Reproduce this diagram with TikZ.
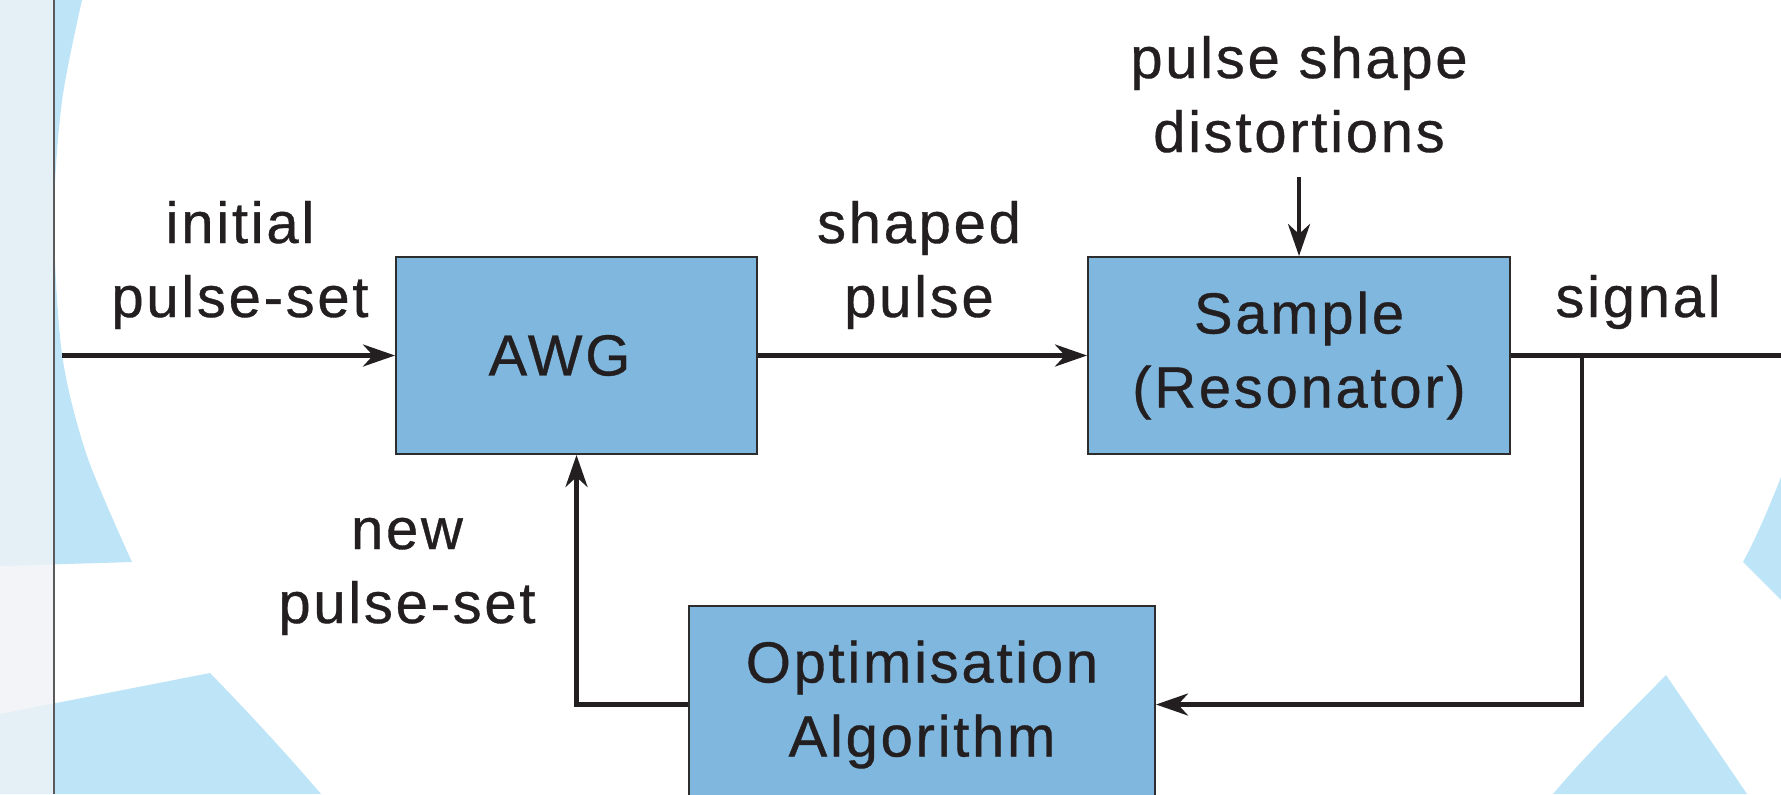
\documentclass[tikz,border=0pt]{standalone}
\usepackage{fontspec}
\setmainfont{Liberation Sans}[LetterSpace=4.7,FakeBold=0.6]
\usetikzlibrary{arrows.meta}
\definecolor{bgblue}{RGB}{190,229,247}
\definecolor{boxfill}{RGB}{128,183,222}
\definecolor{ink}{RGB}{35,31,32}
\definecolor{panel}{RGB}{239,242,246}
\definecolor{boxline}{RGB}{45,45,45}
\definecolor{panelline}{RGB}{90,90,90}
\begin{document}
\begin{tikzpicture}[x=0.5pt,y=-0.5pt,
  every node/.style={font=\fontsize{29pt}{37pt}\selectfont},
  box/.style={draw=boxline, fill=boxfill, line width=1pt, text=ink, align=center, inner sep=0pt},
  lbl/.style={text=ink, align=center, inner sep=0pt, anchor=base},
  conn/.style={draw=ink, line width=2.2pt},
  tip/.style={-{Stealth[length=16pt,width=11pt,inset=5pt]}}]
\useasboundingbox (0,0) rectangle (1781,794);
\clip (0,0) rectangle (1781,794);
\fill[white] (0,0) rectangle (1781,794);
% background shapes
\fill[bgblue] (0,0) -- plot[smooth] coordinates {(82,0) (62,101) (54,218) (62,354) (87,456) (132,562)} -- (0,566) -- cycle;
\fill[bgblue] (0,714) -- (210,673) .. controls (248,712) and (285,752) .. (321,794) -- (0,794) -- cycle;
\fill[bgblue] (1781,477) .. controls (1768,510) and (1755,540) .. (1743,562) -- (1781,600) -- cycle;
\fill[bgblue] (1553,794) .. controls (1590,750) and (1630,712) .. (1666,675) -- (1747,794) -- cycle;
% left panel
\fill[panel, fill opacity=0.8] (0,0) rectangle (54,794);
\draw[panelline, line width=1pt] (54,0) -- (54,794);
% boxes
\node[box, minimum width=180.5pt, minimum height=98.5pt] (awg) at (576.5,355.5) {AWG\hspace*{17pt}};
\node[box, minimum width=211pt, minimum height=98.5pt] (sample) at (1299,355.5) {Sample\\(Resonator)};
\node[box, minimum width=233pt, minimum height=98.5pt] (optim) at (922,704.5) {Optimisation\\Algorithm};
% labels
\node[lbl] (lInit) at (240,317) {initial\\pulse-set};
\node[lbl] (lShaped) at (919,317) {shaped\\pulse};
\node[lbl] (lSignal) at (1638,317) {signal};
\node[lbl] (lDist) at (1299,152) {pulse shape\\distortions};
\node[lbl] (lNew) at (407,623) {new\\pulse-set};
% connectors
\coordinate (in) at (62,355.5);
\coordinate (j) at (1582,355.5);
\coordinate (out) at (1800,355.5);
\coordinate (dtop) at (1299,177);
\draw[conn,tip] (in) -- (awg.west);
\draw[conn,tip] (awg.east) -- (sample.west);
\draw[conn] (sample.east) -- (out);
\draw[conn,tip] (j) |- (optim.east);
\draw[conn,tip] (optim.west) -| (awg.south);
\draw[conn,tip] (dtop) -- (sample.north);
\end{tikzpicture}
\end{document}
